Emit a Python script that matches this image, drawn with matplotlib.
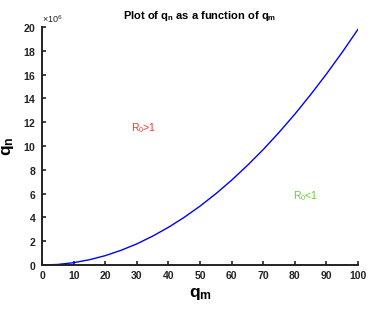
import matplotlib
matplotlib.use("Agg")
import matplotlib.pyplot as plt
import numpy as np

plt.rcParams['font.family'] = ['Liberation Sans', 'DejaVu Sans']
plt.rcParams['mathtext.fontset'] = 'custom'
plt.rcParams['mathtext.rm'] = 'Liberation Sans'
plt.rcParams['mathtext.bf'] = 'Liberation Sans:bold'
plt.rcParams['mathtext.it'] = 'Liberation Sans:italic'

q_m = [0, 5, 10, 15, 20, 25, 30, 35, 40, 45, 50, 55, 60, 65, 70, 75, 80, 85, 90, 95, 100]
q_n = [0.0, 0.05, 0.20, 0.45, 0.79, 1.24, 1.78, 2.43, 3.17, 4.01, 4.95,
       5.99, 7.13, 8.37, 9.70, 11.14, 12.67, 14.31, 16.04, 17.87, 19.8]  # x1e6
q_n = [v * 1e6 for v in q_n]

fig = plt.figure(figsize=(3.76, 3.10), dpi=100)
ax = fig.add_axes([0.112, 0.145, 0.840, 0.768])
ax.plot(q_m, q_n, color='#0000ff', lw=1.0)
ax.set_xlim(0, 100)
ax.set_ylim(0, 20e6)
ax.set_xticks(range(0, 101, 10))
ax.set_yticks(np.arange(0, 21, 2) * 1e6)
ax.ticklabel_format(axis='y', style='sci', scilimits=(6, 6), useMathText=True)
ax.yaxis.get_offset_text().set_fontsize(6.5)
ax.yaxis.get_offset_text().set_color('#333333')
for s in ['top', 'right']:
    ax.spines[s].set_visible(False)
for s in ['left', 'bottom']:
    ax.spines[s].set_linewidth(1.4)
    ax.spines[s].set_color('#222222')
ax.tick_params(direction='in', length=3, width=1.2, labelsize=7.5, colors='#222222', pad=4)
for lab in ax.get_xticklabels() + ax.get_yticklabels():
    lab.set_fontweight('bold')

ax.set_title(r'Plot of q$_\mathbf{n}$ as a function of q$_\mathbf{m}$', fontsize=8, fontweight='bold', pad=6)
ax.set_xlabel(r'q$_\mathbf{m}$', fontsize=12.5, fontweight='bold', labelpad=4)
ax.set_ylabel(r'q$_\mathbf{n}$', fontsize=12.5, fontweight='bold', labelpad=5)

ax.text(28, 11.5e6, r'R$_0$>1', color='#ff3030', fontsize=7.5, ha='left', va='center')
ax.text(79.4, 5.8e6, r'R$_0$<1', color='#66cc33', fontsize=7.5, ha='left', va='center')

fig.savefig('out.png', dpi=100)
